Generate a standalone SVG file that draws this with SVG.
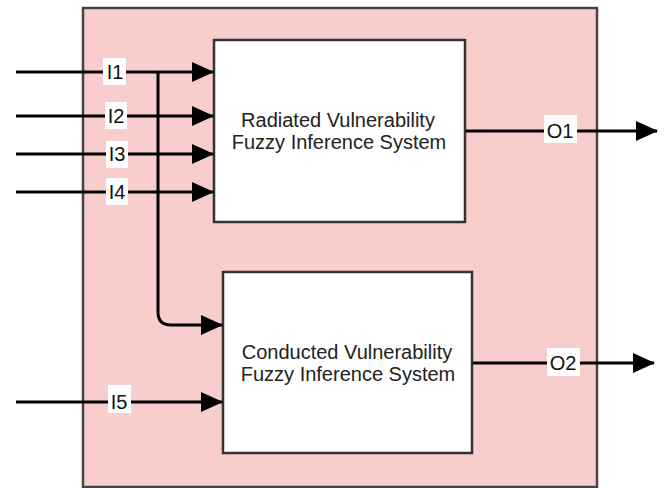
<svg xmlns="http://www.w3.org/2000/svg" width="666" height="488" viewBox="0 0 666 488">
  <style>
    .frame { fill: #f8cecc; stroke: #444444; stroke-width: 2.5; }
    .block { fill: #ffffff; stroke: #333333; stroke-width: 2.5; }
    .wire { fill: none; stroke: #000000; stroke-width: 3; }
    .tag { fill: #ffffff; stroke: none; }
    .lbl { font-family: "Liberation Sans", Arial, sans-serif; font-size: 20px; fill: #111111; text-anchor: middle; }
    .body { font-family: "Liberation Sans", Arial, sans-serif; font-size: 20px; fill: #222222; text-anchor: middle; }
  </style>
  <defs>
    <marker id="arrow" viewBox="0 0 22 20" refX="21" refY="10" markerWidth="22" markerHeight="20" markerUnits="userSpaceOnUse" orient="auto">
      <path d="M0,0 L22,10 L0,20 Z" fill="#000000"/>
    </marker>
  </defs>

  <!-- enclosing subsystem -->
  <g id="subsystem">
    <rect class="frame" x="83" y="8" width="514" height="479"/>
  </g>

  <!-- inference system blocks -->
  <g id="radiated-fis">
    <rect class="block" x="214" y="40" width="251" height="182"/>
    <text class="body" x="338" y="127">Radiated Vulnerability</text>
    <text class="body" x="339" y="149">Fuzzy Inference System</text>
  </g>
  <g id="conducted-fis">
    <rect class="block" x="223" y="272" width="249" height="181"/>
    <text class="body" x="347" y="359">Conducted Vulnerability</text>
    <text class="body" x="348" y="381">Fuzzy Inference System</text>
  </g>

  <!-- signal lines -->
  <g id="connectors">
    <path class="wire" d="M16,72 H213" marker-end="url(#arrow)"/>
    <path class="wire" d="M158,72 V312 Q158,325 171,325 H222" marker-end="url(#arrow)"/>
    <path class="wire" d="M16,116 H213" marker-end="url(#arrow)"/>
    <path class="wire" d="M16,154 H213" marker-end="url(#arrow)"/>
    <path class="wire" d="M16,192 H213" marker-end="url(#arrow)"/>
    <path class="wire" d="M16,402 H222" marker-end="url(#arrow)"/>
    <path class="wire" d="M466,131 H657" marker-end="url(#arrow)"/>
    <path class="wire" d="M473,363 H654" marker-end="url(#arrow)"/>

    <g id="tag-i1"><rect class="tag" x="103" y="58" width="23" height="27"/><text class="lbl" x="115" y="79">I1</text></g>
    <g id="tag-i2"><rect class="tag" x="105" y="102" width="22" height="27"/><text class="lbl" x="116" y="123">I2</text></g>
    <g id="tag-i3"><rect class="tag" x="106" y="141" width="22" height="27"/><text class="lbl" x="117" y="161">I3</text></g>
    <g id="tag-i4"><rect class="tag" x="106" y="178" width="22" height="27"/><text class="lbl" x="117" y="199">I4</text></g>
    <g id="tag-i5"><rect class="tag" x="108" y="385" width="23" height="28"/><text class="lbl" x="119" y="409">I5</text></g>
    <g id="tag-o1"><rect class="tag" x="544" y="115" width="33" height="28"/><text class="lbl" x="560" y="138">O1</text></g>
    <g id="tag-o2"><rect class="tag" x="547" y="348" width="33" height="28"/><text class="lbl" x="563" y="370">O2</text></g>
  </g>
</svg>
